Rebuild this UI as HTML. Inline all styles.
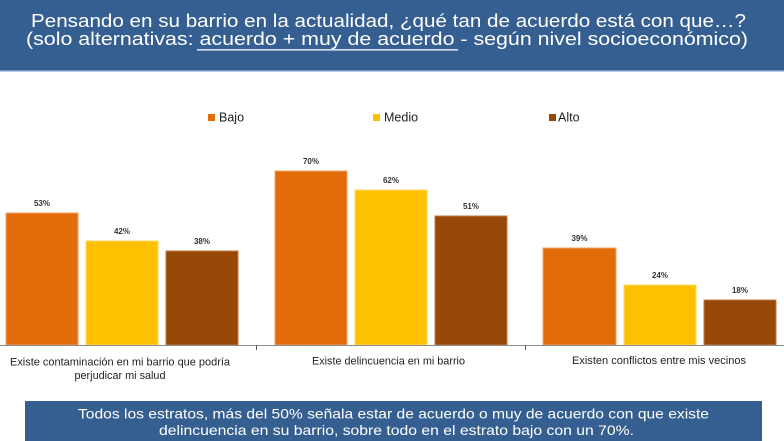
<!DOCTYPE html>
<html><head><meta charset="utf-8"><style>
html,body{margin:0;padding:0;background:#fff;width:784px;height:441px;overflow:hidden}
svg{display:block}
</style></head><body>
<svg width="784" height="441" viewBox="0 0 784 441" xmlns="http://www.w3.org/2000/svg" font-family="'Liberation Sans', sans-serif">
<rect x="0" y="0" width="784" height="70" fill="#365f91"/>
<rect x="0" y="70" width="784" height="1.5" fill="#7496c6"/>
<text x="388.5" y="27" font-size="18" fill="#fff" text-anchor="middle" textLength="715" lengthAdjust="spacingAndGlyphs">Pensando en su barrio en la actualidad, ¿qué tan de acuerdo está con que…?</text>
<text x="387" y="45" font-size="18" fill="#fff" text-anchor="middle" textLength="722" lengthAdjust="spacingAndGlyphs">(solo alternativas: acuerdo + muy de acuerdo  - según nivel socioeconómico)</text>
<rect x="197" y="49.2" width="261" height="1.3" fill="#fff"/>

<!-- legend -->
<rect x="208" y="114" width="7" height="7" fill="#e36c0a"/>
<text x="219" y="121.5" font-size="12.5" fill="#222">Bajo</text>
<rect x="373" y="114" width="7" height="7" fill="#ffc000"/>
<text x="384" y="121.5" font-size="12.5" fill="#222">Medio</text>
<rect x="549" y="114" width="7" height="7" fill="#984806"/>
<text x="558" y="121.5" font-size="12.5" fill="#222">Alto</text>

<!-- bars -->
<g stroke-width="1">
<rect x="6" y="213" width="72" height="132" fill="#e36c0a" stroke="#f0a46a"/>
<rect x="86" y="241" width="72" height="104" fill="#ffc000" stroke="#ffd966"/>
<rect x="166" y="251" width="72" height="94" fill="#984806" stroke="#c07a45"/>
<rect x="275" y="171" width="72" height="174" fill="#e36c0a" stroke="#f0a46a"/>
<rect x="355" y="190" width="72" height="155" fill="#ffc000" stroke="#ffd966"/>
<rect x="435" y="216" width="72" height="129" fill="#984806" stroke="#c07a45"/>
<rect x="543" y="248" width="73" height="97" fill="#e36c0a" stroke="#f0a46a"/>
<rect x="624" y="285" width="72" height="60" fill="#ffc000" stroke="#ffd966"/>
<rect x="704" y="300" width="72" height="45" fill="#984806" stroke="#c07a45"/>
</g>

<!-- value labels -->
<g font-size="8" font-weight="bold" fill="#333" text-anchor="middle">
<text x="42" y="206">53%</text>
<text x="122" y="234">42%</text>
<text x="202" y="244">38%</text>
<text x="311" y="164">70%</text>
<text x="391" y="183">62%</text>
<text x="471" y="209">51%</text>
<text x="579.5" y="241">39%</text>
<text x="660" y="278">24%</text>
<text x="740" y="293">18%</text>
</g>

<!-- axis -->
<rect x="0" y="345" width="784" height="1" fill="#8c8c8c"/>
<rect x="256" y="345" width="1" height="5" fill="#555"/>
<rect x="525" y="345" width="1" height="5" fill="#555"/>

<!-- category labels -->
<g font-size="11" fill="#222" text-anchor="middle">
<text x="120" y="365.5" textLength="220" lengthAdjust="spacingAndGlyphs">Existe contaminación en mi barrio que podría</text>
<text x="120" y="379" textLength="91" lengthAdjust="spacingAndGlyphs">perjudicar mi salud</text>
<text x="388.5" y="364.5" textLength="153" lengthAdjust="spacingAndGlyphs">Existe delincuencia en mi barrio</text>
<text x="659" y="364" textLength="174" lengthAdjust="spacingAndGlyphs">Existen conflictos entre mis vecinos</text>
</g>

<!-- bottom box -->
<rect x="25" y="401" width="737" height="40" fill="#365f91"/>
<text x="393.5" y="418.3" font-size="14" fill="#fff" text-anchor="middle" textLength="631" lengthAdjust="spacingAndGlyphs">Todos los estratos, más del 50% señala estar de acuerdo o muy de acuerdo con que existe</text>
<text x="396.5" y="435" font-size="14" fill="#fff" text-anchor="middle" textLength="475" lengthAdjust="spacingAndGlyphs">delincuencia en su barrio, sobre todo en el estrato bajo con un 70%.</text>
</svg>
</body></html>
